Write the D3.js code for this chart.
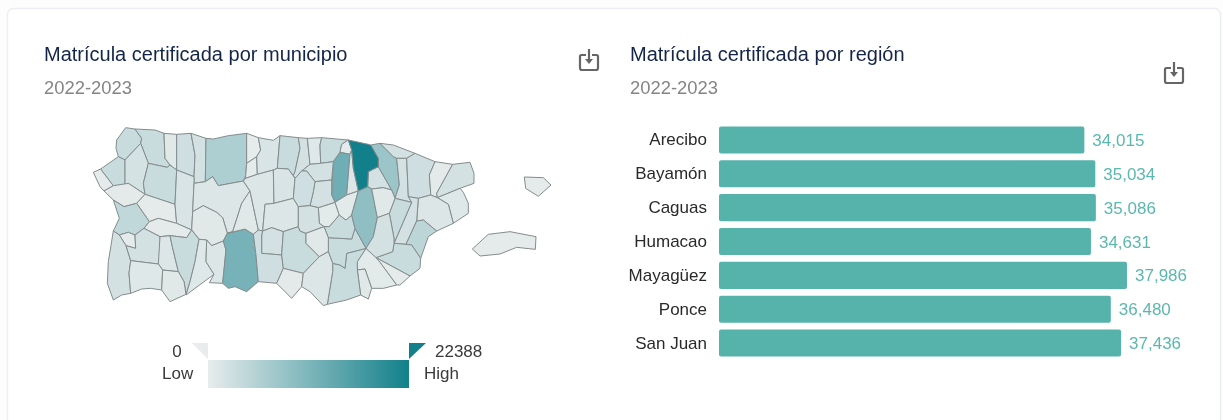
<!DOCTYPE html>
<html>
<head>
<meta charset="utf-8">
<script src="https://cdn.jsdelivr.net/npm/d3@7"></script>
<style>
html, body { margin: 0; padding: 0; background: #fdfdfe; overflow: hidden; }
text { font-family: "Liberation Sans", Arial, sans-serif; }
svg { filter: blur(0.4px); }
</style>
</head>
<body>
<svg id="chart" width="1223" height="420"></svg>
<script>
// bar chart data
var regiones = ["Arecibo", "Bayamón", "Caguas", "Humacao", "Mayagüez", "Ponce", "San Juan"];
var matricula = [34015, 35034, 35086, 34631, 37986, 36480, 37436];

// municipio outlines (map units, not lon/lat)
var shapes = [
"110,75 137,38 165,42 185,70 182,85 135,135 115,125 108,100",
"165,42 225,45 252,55 255,130 270,150 262,157 205,145 182,85 185,70",
"252,55 290,58 290,165 270,150 255,130",
"290,58 333,55 345,120 342,185 290,165",
"333,55 378,70 376,200 342,205 342,185 345,120",
"378,70 400,72 445,62 500,55 500,145 497,182 490,198 415,212 398,185 376,200",
"500,55 535,68 542,105 530,125 500,145",
"500,145 530,125 532,178 497,190 497,182",
"535,68 580,76 600,62 592,160 580,165 532,178 530,125 542,105",
"600,62 655,68 660,100 645,170 640,182 625,162 592,160",
"655,68 682,70 690,148 665,168 645,190 640,182 645,170 660,100",
"40,172 62,162 100,212 72,228 60,215",
"62,162 115,125 135,135 135,150 135,210 100,212",
"135,135 182,85 205,145 190,205 195,238 145,205 135,210 135,150",
"205,145 262,157 270,150 290,165 285,268 195,238 190,205",
"72,228 100,212 145,205 195,238 170,265 132,275 100,255",
"195,238 285,268 290,325 235,310 208,320 170,265",
"100,255 132,275 170,265 208,320 192,340 165,360 145,352 118,360 100,348 118,310",
"290,165 342,185 342,205 338,290 335,345 290,325 285,268",
"342,205 376,200 398,185 415,212 490,198 510,228 485,265 458,350 442,355 428,308 410,292 370,272 338,290",
"338,290 370,272 410,292 428,308 442,355 430,378 395,392 380,375 358,373 335,345",
"235,310 290,325 335,345 320,368 270,362 240,365 192,340 208,320",
"118,360 145,352 165,360 167,400 138,392",
"100,348 118,360 138,392 152,437 147,475 152,535 125,540 100,555 82,505 85,440",
"167,400 165,360 192,340 240,365 240,420 235,447 152,437 138,392",
"240,365 270,362 277,395 295,470 248,465 235,447",
"270,362 320,368 335,345 357,373 345,440 330,500 318,538 312,500 295,470 277,395",
"152,437 235,447 248,465 245,525 212,520 185,522 152,535 147,475",
"248,465 295,470 312,500 318,538 270,560 245,525",
"357,373 380,375 378,440 402,478 318,540 330,500 345,440",
"380,375 395,392 430,378 438,405 428,505 388,503 402,478 378,440",
"430,378 442,355 495,342 520,358 528,420 535,500 500,530 465,515 445,520 428,505 438,405",
"442,355 458,350 485,265 510,228 535,345 520,358 495,342",
"490,198 497,190 532,178 580,165 582,265 555,268 548,348 535,345 510,228",
"580,165 592,160 625,162 645,190 640,250 582,265",
"555,268 582,265 640,250 655,275 655,335 610,350 575,338 548,348",
"548,348 575,338 610,350 605,420 545,415 545,360",
"520,358 535,345 548,348 545,360 545,415 605,420 610,460 590,505 535,500 528,420",
"610,350 655,335 660,348 678,355 678,385 718,425 670,475 610,460 605,420",
"610,460 670,475 665,515 635,550 590,505",
"682,70 725,68 720,90 722,145 690,148",
"720,90 725,68 805,75 785,88 780,112 760,140 722,145",
"785,88 805,75 815,105 810,118 780,112",
"780,112 810,118 800,240 765,262 755,240 760,140",
"810,118 815,105 820,160 835,228 800,240",
"865,170 895,155 935,225 910,218 875,222 863,215",
"872,90 900,85 940,125 950,130 958,210 945,250 935,225 895,155 895,130",
"900,85 940,90 1005,115 980,130 950,130 940,125",
"950,130 980,130 985,245 995,262 945,250 958,210",
"1005,115 1065,140 1048,180 1052,232 1052,240 1015,250 985,245 980,130",
"1065,140 1118,148 1070,235 1072,248 1052,240 1052,232 1048,180",
"1118,148 1170,142 1182,175 1182,205 1140,220 1072,248 1070,235",
"1072,248 1140,220 1150,232 1165,265 1165,295 1120,325 1105,268",
"1015,250 1052,240 1072,248 1105,268 1120,325 1070,348 1030,315 1010,318",
"995,262 985,245 1015,250 1010,318 978,388 942,385",
"945,250 995,262 942,385 942,370 928,295",
"1010,318 1030,315 1070,348 1045,365 1022,430 995,390 978,388",
"942,385 978,388 995,390 1022,430 1020,460 990,483 888,428 938,410",
"888,428 990,483 960,510 950,510 900,442",
"858,400 888,428 900,442 950,510 910,520 875,520 855,462 832,465 832,440",
"832,465 855,462 875,520 865,552 842,540",
"858,400 832,440 832,465 842,540 800,555 742,568 758,470 758,445 780,450 795,460 800,415",
"745,368 815,372 825,340 858,400 800,415 795,460 780,450 758,445 745,410",
"715,278 765,262 778,300 748,335 732,335 718,325",
"778,300 798,315 815,300 825,340 815,372 745,368 732,335 748,335",
"765,262 800,240 835,228 815,300 798,315 778,300",
"835,228 863,215 875,222 892,308 880,365 858,400 825,340 815,300",
"875,222 910,218 935,225 945,250 928,295 892,308",
"892,308 928,295 942,370 942,385 938,410 888,428 858,400 880,365",
"690,148 722,145 760,140 755,195 705,200 680,168 665,168",
"705,200 755,195 755,240 765,262 715,278 690,272 700,230",
"645,190 665,168 680,168 705,200 700,230 690,272 655,275 640,250",
"655,275 690,272 715,278 718,325 732,335 678,355 660,348 655,335",
"678,355 732,335 745,368 745,410 718,425 678,385",
"718,425 745,410 758,445 758,470 742,568 730,572 690,530 665,515 670,475",
"1177,402 1225,358 1290,350 1368,365 1366,403 1310,397 1260,417 1200,423",
"1333,186 1390,188 1413,210 1375,244 1337,220",
"805,75 865,88 872,90 895,130 895,155 865,170 863,215 835,228 820,160 815,105"
];

// estimated from the fill colour of each shape, same order as shapes
var valores = [
3350, 3300, 800, 2600, 2200, 6070, 250, 350, 1670, 3350, 2200,
300, 3350, 2100, 3300, 400, 300, 4200, 1700, 1150, 800, 300, 300,
2200, 2200, 1150, 3300, 900, 800, 900, 1300, 11930, 800, 1150, 1700,
1150, 2200, 2600, 3300, 400, 900, 3350, 300, 12760, 1300, 2200, 8060,
2200, 2200, 2600, 400, 2200, 900, 1150, 2200, 3300, 4600, 3300, 300,
500, 800, 3300, 3300, 500, 3300, 500, 9300, 800, 2200, 2200, 2200, 2600,
2200, 800, 1150, 300, 300, 22388
];

var minValor = 0, maxValor = 22388;

var svg = d3.select("#chart");

//Card
svg.append("rect")
	.attr("x", 7.5)
	.attr("y", 8.5)
	.attr("width", 1213)
	.attr("height", 440)
	.attr("rx", 6)
	.attr("fill", "#fff")
	.attr("stroke", "#eceef2")
	.attr("stroke-width", 1.5);

//Titles
function addTitle(x, title, sub) {
	svg.append("text").attr("x", x).attr("y", 61)
		.attr("font-size", 20).attr("fill", "#15254a").text(title);
	svg.append("text").attr("x", x).attr("y", 94)
		.attr("font-size", 18.4).attr("fill", "#858585").text(sub);
}
addTitle(44, "Matrícula certificada por municipio", "2022-2023");
addTitle(630, "Matrícula certificada por región", "2022-2023");

//Download icons
function addIcon(cx, top) {
	var g = svg.append("g")
		.attr("transform", "translate(" + cx + "," + top + ")")
		.attr("fill", "none")
		.attr("stroke", "#666")
		.attr("stroke-width", 2.2);
	g.append("path").attr("d", "M-3,6H-7.5Q-9,6 -9,7.5V19Q-9,21 -7,21H7Q9,21 9,19V7.5Q9,6 7.5,6H3");
	g.append("path").attr("d", "M0,0V12");
	g.append("path").attr("d", "M-4,10L0,15L4,10Z").attr("fill", "#666").attr("stroke", "none");
}
addIcon(589, 49);
addIcon(1174, 62);

//Map
var xMap = d3.scaleLinear().domain([0, 1500]).range([80, 580]);
var yMap = d3.scaleLinear().domain([0, 600]).range([115, 315]);
var color = d3.scaleLinear()
	.domain([minValor, maxValor])
	.range(["#e8ecec", "#12808a"]);

var features = shapes.map(function(s, i) {
	var ring = s.split(" ").map(function(p) { return p.split(",").map(Number); });
	ring.push(ring[0]);
	return { type: "Feature", properties: { valor: valores[i] }, geometry: { type: "Polygon", coordinates: [ring] } };
});

var path = d3.geoPath().projection(d3.geoTransform({
	point: function(x, y) { this.stream.point(xMap(x), yMap(y)); }
}));

svg.append("g").selectAll("path")
	.data(features)
	.enter()
	.append("path")
	.attr("d", path)
	.attr("fill", function(d) { return color(d.properties.valor); })
	.attr("stroke", "#848c8d")
	.attr("stroke-width", 1)
	.attr("stroke-linejoin", "round");

//Legend
var xLegend = d3.scaleLinear().domain([minValor, maxValor]).range([208, 409]);
var grad = svg.append("defs").append("linearGradient").attr("id", "legendGrad");
grad.append("stop").attr("offset", "0%").attr("stop-color", color(minValor));
grad.append("stop").attr("offset", "100%").attr("stop-color", color(maxValor));

svg.append("rect")
	.attr("x", xLegend(minValor))
	.attr("y", 360)
	.attr("width", xLegend(maxValor) - xLegend(minValor))
	.attr("height", 28)
	.attr("fill", "url(#legendGrad)");

var x0 = xLegend(minValor), x1 = xLegend(maxValor);
svg.append("path").attr("d", d3.line()([[x0 - 16, 343], [x0, 343], [x0, 359]])).attr("fill", color(minValor));
svg.append("path").attr("d", d3.line()([[x1, 343], [x1 + 17, 343], [x1, 359]])).attr("fill", color(maxValor));

function legendText(x, y, anchor, t) {
	svg.append("text").attr("x", x).attr("y", y)
		.attr("text-anchor", anchor)
		.attr("font-size", 17).attr("fill", "#3a3a3a").text(t);
}
legendText(177, 357, "middle", minValor);
legendText(162, 379, "start", "Low");
legendText(435, 357, "start", maxValor);
legendText(424, 379, "start", "High");

//Bars
var xBar = d3.scaleLinear().domain([0, 37986]).range([719, 1127]);
var yBar = d3.scaleBand()
	.domain(regiones)
	.range([123, 360])
	.paddingInner(0.2)
	.paddingOuter(0.1);

var yAxis = d3.axisLeft(yBar).tickSize(0).tickPadding(0);
svg.append("g")
	.attr("transform", "translate(707,0)")
	.call(yAxis)
	.call(function(g) { g.select(".domain").remove(); })
	.selectAll("text")
	.attr("font-size", 17)
	.attr("font-family", "Liberation Sans")
	.attr("fill", "#2a2a2a");

svg.selectAll(".bar")
	.data(regiones)
	.enter()
	.append("rect")
	.attr("class", "bar")
	.attr("x", xBar(0))
	.attr("y", function(d) { return yBar(d); })
	.attr("width", function(d, i) { return xBar(matricula[i]) - xBar(0); })
	.attr("height", yBar.bandwidth())
	.attr("rx", 2)
	.attr("fill", "#55b3ab");

svg.selectAll(".barlabel")
	.data(regiones)
	.enter()
	.append("text")
	.attr("class", "barlabel")
	.attr("x", function(d, i) { return xBar(matricula[i]) + 8; })
	.attr("y", function(d) { return yBar(d) + yBar.bandwidth() / 2 + 6; })
	.attr("font-size", 17)
	.attr("fill", "#5bb8ae")
	.text(function(d, i) { return d3.format(",")(matricula[i]); });
</script>
</body>
</html>
